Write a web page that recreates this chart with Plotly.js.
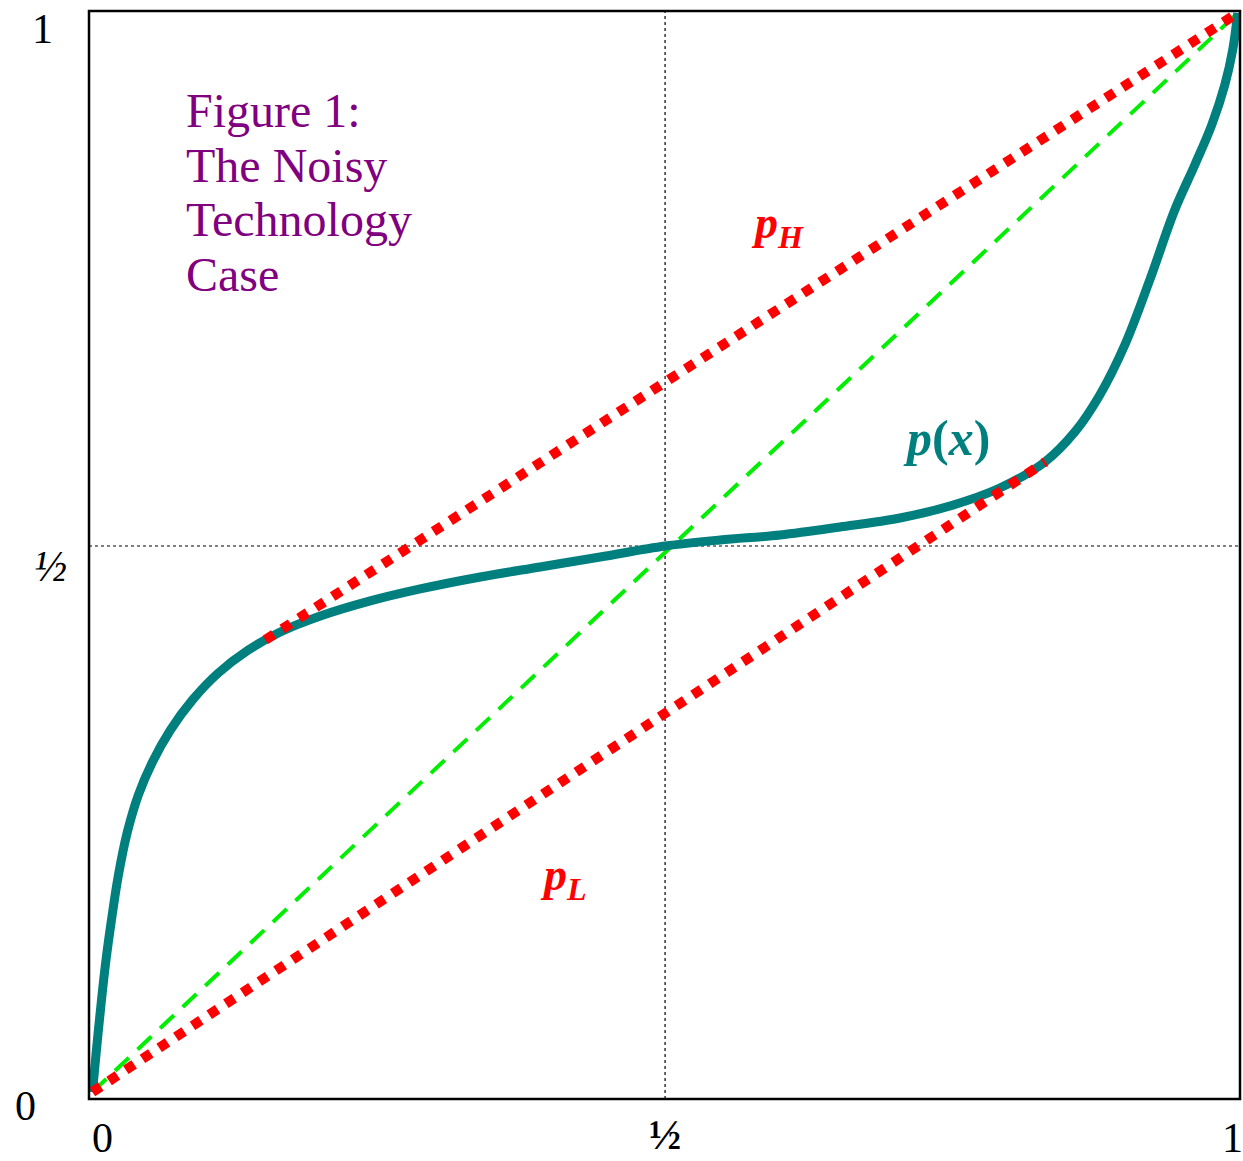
<!DOCTYPE html>
<html>
<head>
<meta charset="utf-8">
<script src="https://cdn.plot.ly/plotly-3.0.1.min.js"></script>
<style>html,body{margin:0;padding:0;background:#fff;}#chart{width:1243px;height:1161px;}</style>
</head>
<body>
<div id="chart"></div>
<script>
// p(x) curve
const curveX = [0, 0.0035, 0.0070, 0.0113, 0.0166, 0.0227, 0.0305, 0.0401, 0.0524, 0.0681, 0.0873, 0.1099, 0.1361, 0.1640, 0.1990, 0.2426, 0.2862, 0.3386, 0.3909, 0.4433, 0.5, 0.5480, 0.6003, 0.6527, 0.7051, 0.7487, 0.7923, 0.8316, 0.8578, 0.8796, 0.9014, 0.9232, 0.9450, 0.9625, 0.9773, 0.9887, 0.9956, 1];
const curveY = [0, 0.0389, 0.0760, 0.1177, 0.1594, 0.2011, 0.2410, 0.2753, 0.3058, 0.3355, 0.3633, 0.3883, 0.4096, 0.4263, 0.4411, 0.4551, 0.4662, 0.4773, 0.4866, 0.4958, 0.5060, 0.5116, 0.5162, 0.5236, 0.5320, 0.5431, 0.5598, 0.5839, 0.6117, 0.6460, 0.6923, 0.7525, 0.8174, 0.8591, 0.8962, 0.9333, 0.9657, 1];
// p_H line (upper red dotted)
const pHX = [0.151, 1];
const pHY = [0.419, 1];
// p_L line (lower red dotted)
const pLX = [0, 0.832];
const pLY = [0, 0.584];
// 45-degree line (green dashed)
const diagX = [0, 1];
const diagY = [0, 1];
// reference dotted lines
const halfX = 0.5;
const halfY = 0.506;
// tick labels
const xTickVals = [0, 0.5, 1];
const xTickText = ["0", "<b>\u00BD</b>", "1"];
const yTickVals = [0, 0.5, 1];
const yTickText = ["0", "<i>\u00BD</i>", "1"];
// figure caption lines
const captionLines = ["Figure 1:", "The Noisy", "Technology", "Case"];
const captionY = [0.9096, 0.8587, 0.8086, 0.7577];

const serif = "Liberation Serif, Times New Roman, serif";

const traces = [
  {x: diagX, y: diagY, mode: "lines", line: {color: "#00EE00", width: 4, dash: "19px,12px"}, hoverinfo: "skip"},
  {x: curveX, y: curveY, mode: "lines", line: {color: "#007F7F", width: 9, shape: "spline", smoothing: 1}, hoverinfo: "skip"},
  {x: pHX, y: pHY, mode: "lines", line: {color: "#FF0000", width: 10, dash: "10px,10px"}, hoverinfo: "skip"},
  {x: pLX, y: pLY, mode: "lines", line: {color: "#FF0000", width: 10, dash: "10px,10px"}, hoverinfo: "skip"}
];

const xShifts = [10, 0, -5];
const xYShifts = [-39, -35, -39];
const yXShifts = [-64, -39, -47];
const yYShifts = [-14, -14, -16];

const annotations = [];
xTickVals.forEach((v, i) => annotations.push({
  x: v, xref: "x", y: 0, yref: "paper", xanchor: "center", yanchor: "middle",
  xshift: xShifts[i], yshift: xYShifts[i], showarrow: false,
  text: xTickText[i], font: {family: serif, size: i === 1 ? 43 : 42, color: "#000"}
}));
yTickVals.forEach((v, i) => annotations.push({
  x: 0, xref: "paper", y: v, yref: "y", xanchor: "center", yanchor: "middle",
  xshift: yXShifts[i], yshift: yYShifts[i], showarrow: false,
  text: yTickText[i], font: {family: serif, size: i === 1 ? 44 : 42, color: "#000"}
}));
captionLines.forEach((t, i) => annotations.push({
  x: 0.083, xref: "x", y: captionY[i], yref: "y", xanchor: "left", yanchor: "middle",
  xshift: -3, showarrow: false, text: t, font: {family: serif, size: 48, color: "#800080"}
}));
annotations.push({x: 0.598, y: 0.803, xref: "x", yref: "y", showarrow: false,
  text: "<b><i>p</i></b><sub><b><i>H</i></b></sub>", font: {family: serif, size: 46, color: "#FF0000"}});
annotations.push({x: 0.411, y: 0.198, xref: "x", yref: "y", showarrow: false,
  text: "<b><i>p</i></b><sub><b><i>L</i></b></sub>", font: {family: serif, size: 46, color: "#FF0000"}});
annotations.push({x: 0.746, y: 0.606, xref: "x", yref: "y", showarrow: false,
  text: "<b><i>p</i>(<i>x</i>)</b>", font: {family: serif, size: 50, color: "#007F7F"}});

const layout = {
  width: 1243, height: 1161,
  margin: {l: 89, r: 3, t: 11, b: 62, pad: 0},
  paper_bgcolor: "#fff", plot_bgcolor: "#fff",
  showlegend: false,
  xaxis: {range: [-0.003, 1.002], showgrid: false, zeroline: false, showticklabels: false, ticks: "", fixedrange: true},
  yaxis: {range: [-0.00649, 1.00185], showgrid: false, zeroline: false, showticklabels: false, ticks: "", fixedrange: true},
  shapes: [
    {type: "line", xref: "x", yref: "paper", x0: halfX, x1: halfX, y0: 0, y1: 1, line: {color: "#000", width: 1.2, dash: "dot"}, layer: "below"},
    {type: "line", xref: "paper", yref: "y", x0: 0, x1: 1, y0: halfY, y1: halfY, line: {color: "#000", width: 1.2, dash: "dot"}, layer: "below"},
    {type: "rect", xref: "paper", yref: "paper", x0: 0, x1: 1, y0: 0, y1: 1, line: {color: "#000", width: 2.5}, layer: "above"}
  ],
  annotations: annotations
};

Plotly.newPlot("chart", traces, layout, {displayModeBar: false, staticPlot: true});
</script>
</body>
</html>
